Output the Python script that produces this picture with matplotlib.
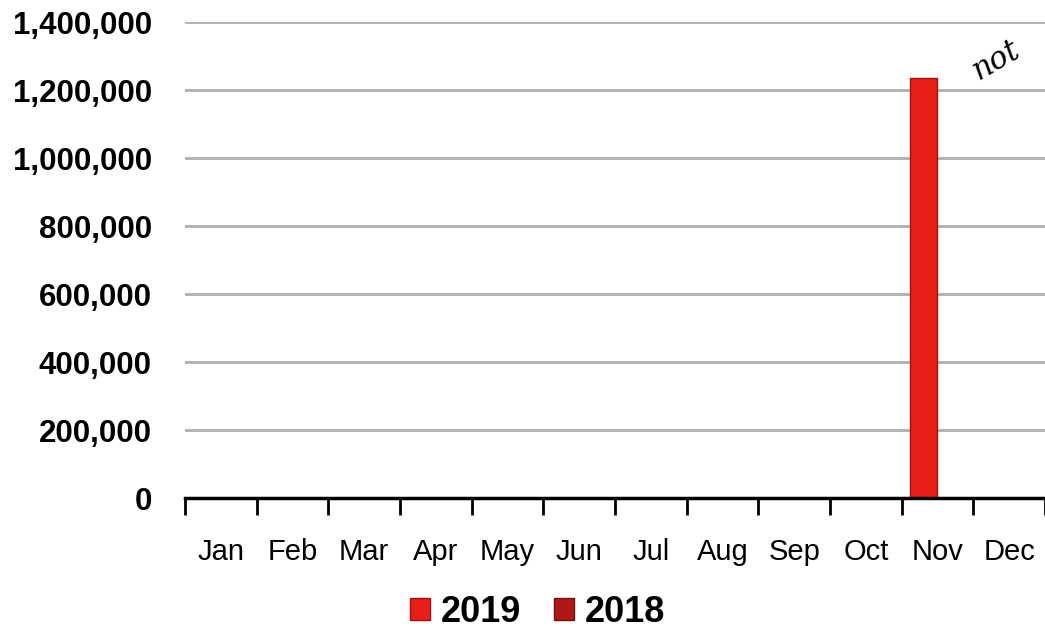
import numpy as np
import matplotlib.pyplot as plt
from matplotlib.ticker import FuncFormatter

meses = ['Jan', 'Feb', 'Mar', 'Apr', 'May', 'Jun', 'Jul', 'Aug', 'Sep', 'Oct', 'Nov', 'Dec']
valores_2019 = [0, 0, 0, 0, 0, 0, 0, 0, 0, 0, 1235000, 0]
valores_2018 = [0, 0, 0, 0, 0, 0, 0, 0, 0, 0, 0, 0]
y_ticks = [0, 200000, 400000, 600000, 800000, 1000000, 1200000, 1400000]

plt.rcParams['font.family'] = ['Liberation Sans', 'DejaVu Sans']

fig = plt.figure(figsize=(10.45, 6.34), dpi=100)
ax = fig.add_axes([0.177, 0.2145, 0.823, 0.7505])

x = np.arange(len(meses))
largura = 0.38
ax.bar(x - largura / 2, valores_2019, largura, color='#e8201a', edgecolor='#a01010', linewidth=1, label='2019', zorder=3)
ax.bar(x + largura / 2, valores_2018, largura, color='#b01818', edgecolor='#701010', linewidth=1, label='2018', zorder=3)

ax.set_xlim(-0.5, 11.5)
ax.set_ylim(0, 1400000)
ax.set_yticks(y_ticks)
ax.yaxis.set_major_formatter(FuncFormatter(lambda v, p: f'{int(v):,}'))
ax.tick_params(axis='y', length=0, pad=24, labelsize=22.5)
for t in ax.get_yticklabels():
    t.set_fontweight('bold')

# ticks entre as categorias, labels no centro
ax.set_xticks(np.arange(-0.5, 12, 1))
ax.set_xticklabels([])
ax.set_xticks(x, minor=True)
ax.set_xticklabels(meses, minor=True, fontsize=21)
ax.tick_params(axis='x', which='major', length=12, width=2, direction='out', color='black')
ax.tick_params(axis='x', which='minor', length=0, pad=29)

ax.grid(axis='y', color='#b0b0b0', linewidth=2, zorder=0)
for lado in ['top', 'right', 'left']:
    ax.spines[lado].set_visible(False)
ax.spines['bottom'].set_linewidth(2.5)
ax.spines['bottom'].set_zorder(4)

ax.legend(loc='center', bbox_to_anchor=(0.41, -0.24), ncol=2, frameon=False,
          prop={'size': 26, 'weight': 'bold'}, handlelength=0.55, handleheight=0.55,
          handletextpad=0.3, columnspacing=0.9)

# anotacao manuscrita no scan
fig.text(0.925, 0.875, 'not', fontsize=22, family='DejaVu Serif', style='italic', rotation=30, color='black')

fig.savefig('out.png', dpi=100)
